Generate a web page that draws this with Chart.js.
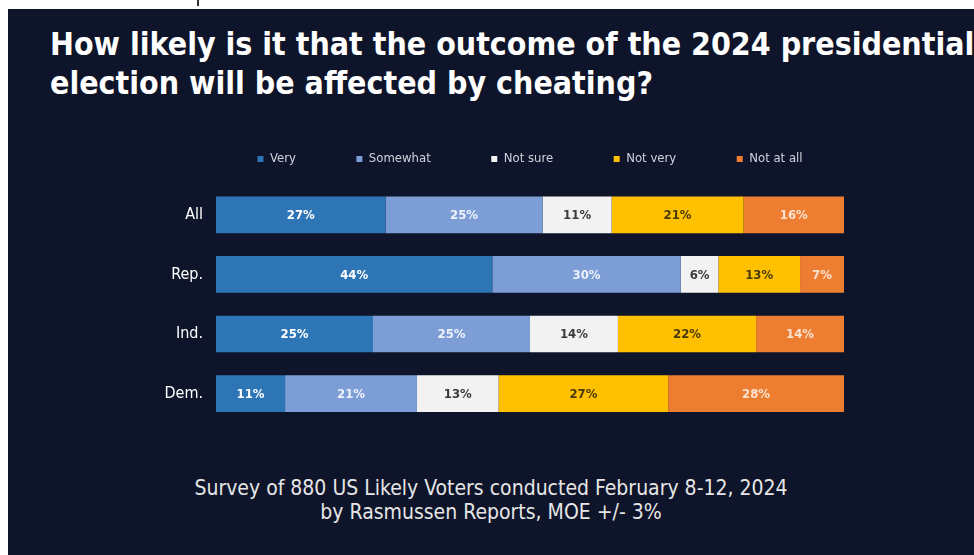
<!DOCTYPE html>
<html>
<head>
<meta charset="utf-8">
<script src="https://cdn.jsdelivr.net/npm/chart.js@4/dist/chart.umd.min.js"></script>
<style>
  html, body { margin: 0; padding: 0; background: #fff; }
  body { width: 974px; height: 555px; position: relative; overflow: hidden; }
  .panel { position: absolute; left: 8px; top: 9px; right: 0; bottom: 0; background: #0e1429; }
  .notch { position: absolute; left: 197px; top: 0; width: 2px; height: 6px; background: #333; }
  .title {
    position: absolute; left: 50px; top: 24px; margin: 0;
    font-family: "DejaVu Sans Condensed", "DejaVu Sans", sans-serif; font-weight: bold;
    font-size: 31.8px; line-height: 39px; color: #fff; white-space: nowrap;
  }
  .note {
    position: absolute; left: 8px; right: 0; top: 476px; text-align: center;
    font-family: "DejaVu Sans Condensed", "DejaVu Sans", sans-serif;
    font-size: 21px; line-height: 24px; color: #e6e6e6;
  }
  .chart-box { position: absolute; left: 86px; top: 92px; width: 888px; height: 354px; }
</style>
</head>
<body>
<div class="panel"></div>
<div class="notch"></div>
<h1 class="title">How likely is it that the outcome of the 2024 presidential<br>election will be affected by cheating?</h1>
<div class="chart-box"><canvas id="chart"></canvas></div>
<div class="note">Survey of 880 US Likely Voters conducted February 8-12, 2024<br>by Rasmussen Reports, MOE +/- 3%</div>
<script>
// groups (rows) and answers (stacked segments), values in percent
const groups = ['All', 'Rep.', 'Ind.', 'Dem.'];
const answers = ['Very', 'Somewhat', 'Not sure', 'Not very', 'Not at all'];
const very      = [27, 44, 25, 11];
const somewhat  = [25, 30, 25, 21];
const notSure   = [11,  6, 14, 13];
const notVery   = [21, 13, 22, 27];
const notAtAll  = [16,  7, 14, 28];

const fills = ['#2e75b6', '#7d9dd6', '#f2f2f2', '#ffc000', '#ed7d31'];
const labelColors = ['#ffffff', '#eef2fa', '#3a3a3a', '#4a3a0a', '#fbe3d2'];
const FONT = '"DejaVu Sans Condensed", "DejaVu Sans", sans-serif';

// draw the % value in the middle of every segment
const segmentLabels = {
    id: 'segmentLabels',
    afterDatasetsDraw(chart) {
        const ctx = chart.ctx;
        ctx.save();
        ctx.font = 'bold 13px ' + FONT;
        ctx.textAlign = 'center';
        ctx.textBaseline = 'middle';
        chart.data.datasets.forEach((ds, i) => {
            const meta = chart.getDatasetMeta(i);
            meta.data.forEach((bar, j) => {
                const p = bar.getCenterPoint();
                ctx.fillStyle = labelColors[i];
                ctx.fillText(ds.data[j] + '%', p.x, p.y + 1);
            });
        });
        ctx.restore();
    }
};

// legend needs extra room below it so the bars start lower
const legendHeight = {
    id: 'legendHeight',
    beforeInit(chart) {
        const fit = chart.legend.fit;
        chart.legend.fit = function () {
            fit.bind(chart.legend)();
            this.height = 93;
        };
    }
};

const series = [very, somewhat, notSure, notVery, notAtAll];

new Chart(document.getElementById('chart'), {
    type: 'bar',
    data: {
        labels: groups,
        datasets: answers.map((name, i) => ({
            label: name,
            data: series[i],
            backgroundColor: fills[i],
            borderWidth: 0,
            categoryPercentage: 1,
            barPercentage: 0.615
        }))
    },
    options: {
        indexAxis: 'y',
        responsive: true,
        maintainAspectRatio: false,
        animation: false,
        events: [],
        layout: { padding: 0 },
        plugins: {
            legend: {
                position: 'top',
                labels: {
                    boxWidth: 6,
                    boxHeight: 6,
                    padding: 60.5,
                    color: '#cfd3dc',
                    font: { family: FONT, size: 13 }
                }
            },
            tooltip: { enabled: false }
        },
        scales: {
            x: { stacked: true, min: 0, max: 100, display: false },
            y: {
                stacked: true,
                grid: { display: false, drawTicks: false },
                border: { display: false },
                ticks: { color: '#ffffff', padding: 13, font: { family: FONT, size: 16 } },
                afterFit(s) { s.width = 130; }
            },
            // empty right axis that mirrors the label column, keeps the legend centred on the bars
            yRight: {
                type: 'category',
                labels: groups,
                position: 'right',
                grid: { display: false, drawTicks: false },
                border: { display: false },
                ticks: { display: false },
                afterFit(s) { s.width = 130; }
            }
        }
    },
    plugins: [segmentLabels, legendHeight]
});
</script>
</body>
</html>
